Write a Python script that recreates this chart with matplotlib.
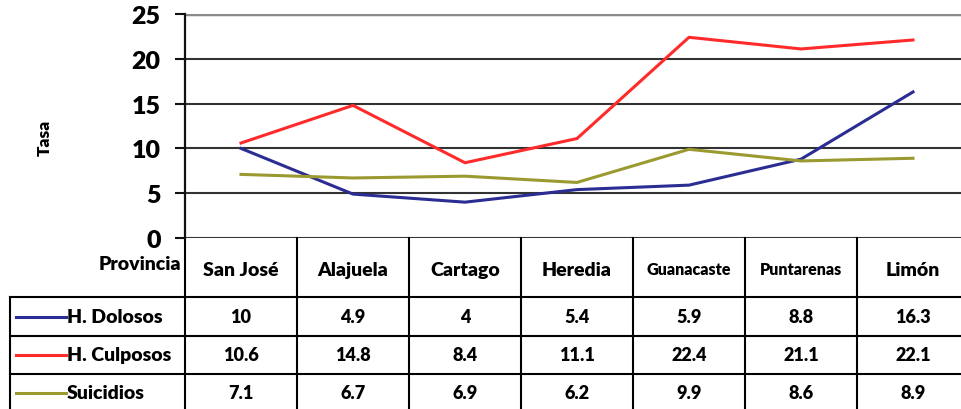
import matplotlib
matplotlib.use("Agg")
import matplotlib.pyplot as plt
from matplotlib.transforms import blended_transform_factory
from matplotlib.lines import Line2D

provincias = ["San José", "Alajuela", "Cartago", "Heredia", "Guanacaste", "Puntarenas", "Limón"]
series_names = ["H. Dolosos", "H. Culposos", "Suicidios"]
dolosos = [10, 4.9, 4, 5.4, 5.9, 8.8, 16.3]
culposos = [10.6, 14.8, 8.4, 11.1, 22.4, 21.1, 22.1]
suicidios = [7.1, 6.7, 6.9, 6.2, 9.9, 8.6, 8.9]
table_text = [["10", "4.9", "4", "5.4", "5.9", "8.8", "16.3"],
              ["10.6", "14.8", "8.4", "11.1", "22.4", "21.1", "22.1"],
              ["7.1", "6.7", "6.9", "6.2", "9.9", "8.6", "8.9"]]
yticks = [0, 5, 10, 15, 20, 25]
colors = ["#2B2D92", "#FF2B2B", "#9A9A30"]

FONT = "Lato"
WT = "heavy"
W, H = 961, 410
fig = plt.figure(figsize=(W / 100, H / 100), dpi=100)

def fx(px):
    return px / W

def fy(py):
    return (H - py) / H

ax = fig.add_axes([fx(185), fy(239), fx(784), (239 - 15) / H])
ax.set_xlim(-0.5, 6.5)
ax.set_ylim(0, 25)
for s in ["top", "right", "bottom"]:
    ax.spines[s].set_visible(False)
ax.spines["left"].set_linewidth(1.6)
ax.spines["left"].set_color("#111111")

for v in yticks[:-1]:
    ax.axhline(v, color="#333333", lw=1.5, zorder=1)
ax.axhline(25, color="#8a8a8a", lw=2.5, zorder=1)

x = list(range(len(provincias)))
for vals, c in zip([dolosos, culposos, suicidios], colors):
    ax.plot(x, vals, color=c, lw=2.2, zorder=3)

ax.set_yticks(yticks)
ax.set_yticklabels([str(t) for t in yticks], fontsize=18, fontweight=WT, family=FONT)
ax.tick_params(axis="y", length=7.5, width=1.5, color="#111111", pad=10)
ax.set_xticks([])

fig.text(fx(45), fy(138), "Tasa", rotation=90, ha="center", va="center",
         fontsize=12.5, fontweight=WT, family=FONT)

# Table
tr = blended_transform_factory(ax.transData, fig.transFigure)
row_lines = [239, 298, 337, 375, 415]
lw = 1.5
for py in row_lines[1:-1]:
    fig.add_artist(Line2D([fx(10), fx(969)], [fy(py), fy(py)], color="black", lw=lw))
for i in range(len(provincias) + 1):
    xv = -0.5 + i
    ax.add_artist(Line2D([xv, xv], [fy(239), fy(415)], transform=tr, color="black",
                         lw=lw, clip_on=False))
fig.add_artist(Line2D([fx(10), fx(10)], [fy(298), fy(415)], color="black", lw=lw))

# header
fig.text(fx(181), fy(265), "Provincia", ha="right", va="center", fontsize=14,
         fontweight=WT, family=FONT)
hy = (239 + 298) / 2 + 2
for i, p in enumerate(provincias):
    fs = 11.5 if p in ("Guanacaste", "Puntarenas") else 14
    ax.text(i, fy(hy), p, transform=tr, ha="center", va="center", fontsize=fs,
            fontweight=WT, family=FONT)

# data rows
for r, (name, c) in enumerate(zip(series_names, colors)):
    cy = (row_lines[r + 1] + row_lines[r + 2]) / 2
    if r == 2:
        cy = 394
    fig.add_artist(Line2D([fx(16), fx(66)], [fy(cy), fy(cy)], color=c, lw=2.2))
    fig.text(fx(67), fy(cy), name, ha="left", va="center", fontsize=14,
             fontweight=WT, family=FONT)
    for i, t in enumerate(table_text[r]):
        ax.text(i, fy(cy), t, transform=tr, ha="center", va="center", fontsize=13,
                fontweight=WT, family=FONT)

fig.savefig("out.png", dpi=100)
